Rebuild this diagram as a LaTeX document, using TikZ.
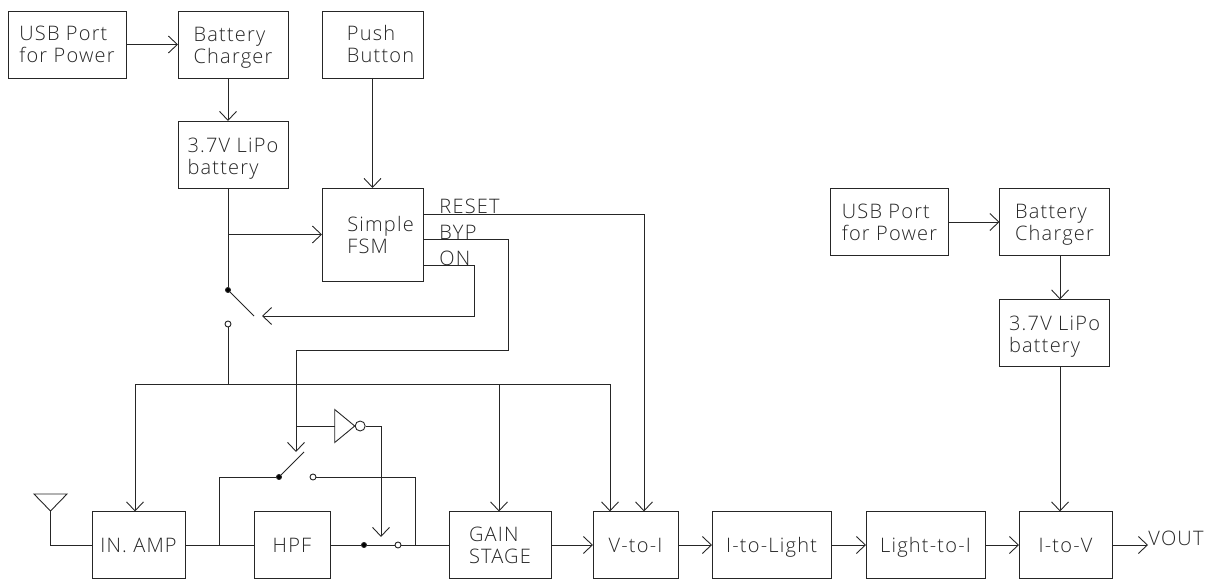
\documentclass[tikz,border=0pt]{standalone}
\usepackage{fontspec}
\setmainfont{Open Sans}[UprightFont=* Light,LetterSpace=6]
\usetikzlibrary{positioning,arrows.meta}
\usetikzlibrary{calc}
\usetikzlibrary{shapes.geometric}
\tikzset{
    >={Straight Barb[length=9pt,width=17pt]},
    block/.style={
        rectangle,
        draw,
        align=left,
        inner sep=0pt,
        outer sep=0pt,
        minimum height=67pt
    },
    drop/.style={
        execute at begin node=\rule{0pt}{#1}
    },
    contact/.style={
        circle,
        draw,
        fill=black,
        inner sep=0pt,
        minimum size=5pt
    },
    pad/.style={
        circle,
        draw,
        fill=white,
        inner sep=0pt,
        minimum size=6pt
    },
    gate/.style={
        isosceles triangle,
        isosceles triangle stretches,
        draw,
        inner sep=0pt,
        outer sep=0pt,
        minimum width=33pt
    },
    signal/.style={
        anchor=base west,
        inner sep=0pt
    }
}
\begin{document}
\begin{tikzpicture}[
    x=1pt,
    y=-1pt,
    font=\fontsize{20}{22}\selectfont,
    line width=0.9pt,
    color=black!85
]
\useasboundingbox (0,0) rectangle (1212,580);

% Power path of the implant
\node[block, minimum width=118pt] (usbone) at (67,44.5)
{USB Port\\for Power};
\node[block, drop=42pt, minimum width=110pt, right=52pt of usbone] (chargerone)
{Battery\\Charger};
\node[block, drop=44pt, minimum width=110pt, below=43pt of chargerone] (lipoone)
{3.7V LiPo\\battery};

% Control
\node[block, minimum width=101pt, right=34pt of chargerone] (push)
{\hspace*{16pt}Push\\\hspace*{16pt}Button};
\node[block, minimum width=101pt, minimum height=93pt, below=110pt of push] (fsm)
{\hspace*{16pt}Simple\\\hspace*{16pt}FSM};

% Power path of the receiver
\node[block, minimum width=118pt] (usbtwo) at (889.5,222)
{USB Port\\for Power};
\node[block, drop=42pt, minimum width=110pt, right=51pt of usbtwo] (chargertwo)
{Battery\\Charger};
\node[block, drop=44pt, minimum width=110pt, below=44pt of chargertwo] (lipotwo)
{3.7V LiPo\\battery};

% Signal chain
\node[block, minimum width=93pt] (inamp) at (138.5,545)
{IN. AMP};
\node[block, minimum width=76pt, right=69pt of inamp] (hpf)
{HPF};
\node[block, minimum width=102pt, right=119pt of hpf] (gain)
{GAIN\\STAGE};
\node[block, minimum width=85pt, right=42pt of gain] (vtoi)
{V-to-I};
\node[block, drop=20pt, minimum width=119pt, right=34pt of vtoi] (itolight)
{I-to-Light};
\node[block, drop=20pt, minimum width=119pt, right=35pt of itolight] (lighttoi)
{Light-to-I};
\node[block, minimum width=93pt, right=34pt of lighttoi] (itov)
{I-to-V};
\node[inner sep=0pt, right=36pt of itov, yshift=7pt] (vout)
{VOUT};

% Antenna and inverter
\node[gate, minimum height=17pt, shape border rotate=-90] (antenna) at (50.5,501) {};
\node[gate, minimum height=20pt] (inv) at (342.5,426) {};
\node[pad, minimum size=10pt, right=0pt of inv.apex] (bubble) {};

% Switches
\node[contact] (pwrdot) at (228,290) {};
\node[pad] (pwrpad) at (228,324) {};
\node[contact] (bypdot) at (279,477) {};
\node[pad] (byppad) at (313,477) {};
\node[contact] (seldot) at (364,545) {};
\node[pad] (selpad) at (398,545) {};

% Junctions and free ends
\coordinate (pwrarm) at (254,316);
\coordinate (bypgate) at (296,452);
\coordinate (byparm) at (304,452);
\coordinate (pwrgate) at (262,316);
\coordinate (selgate) at (381,537);
\coordinate (busleft) at (135,384);
\coordinate (busgain) at (499,384);
\coordinate (busright) at (610,384);
\coordinate (tapleft) at (219,545);
\coordinate (tapright) at (415,545);
\coordinate (taptwo) at (1060,256);
\coordinate (resetout) at ($(fsm.north east)+(0,26)$);
\coordinate (bypout) at ($(fsm.north east)+(0,51)$);
\coordinate (onout) at ($(fsm.north east)+(0,77)$);

% Charging
\draw[->] (usbone) -- (chargerone);
\draw[->] (chargerone.south -| pwrdot) -- (lipoone.north -| pwrdot);
\draw[->] (push) -- (fsm);
\draw[->] (usbtwo) -- (chargertwo);
\draw[->] (taptwo) -- (lipotwo.north -| taptwo);
\draw[->] (lipotwo.south -| taptwo) -- (itov.north -| taptwo);

% Battery to FSM and switch
\draw (lipoone.south -| pwrdot) -- (pwrdot);
\draw[->] (pwrdot |- fsm.west) -- (fsm.west);
\draw (pwrdot) -- (pwrarm);
\draw (pwrpad) -- (pwrpad |- busleft);

% Supply bus
\draw[->] (busright) -- (busleft) -- (busleft |- inamp.north);
\draw[->] (busgain) -- (busgain |- gain.north);
\draw[->] (busright) -- (busright |- vtoi.north);

% FSM outputs
\draw[->] (resetout) -| (vtoi.north -| 644,0);
\draw[->] (bypout) -- (bypout -| 508,0) |- (296,350) -- (bypgate);
\draw[->] (onout) -- (onout -| 474,0) |- (pwrgate);
\node[signal] (resetlabel) at ($(resetout)+(16,0)$) {RESET};
\node[signal] (byplabel) at ($(bypout)+(16,0)$) {BYP};
\node[signal] (onlabel) at ($(onout)+(16,0)$) {ON};

% Bypass around the filter
\draw (antenna.apex) |- (inamp.west);
\draw (inamp.east) -- (hpf.west);
\draw (hpf.east) -- (seldot);
\draw (seldot) -- (selpad);
\draw (selpad) -- (gain.west);
\draw (tapleft) |- (bypdot);
\draw (bypdot) -- (byparm);
\draw (byppad) -| (tapright);
\draw (inv.lower side) -- (inv.lower side -| bypgate);
\draw[->] (bubble) -| (selgate);

% Signal chain
\draw[->] (gain) -- (vtoi);
\draw[->] (vtoi) -- (itolight);
\draw[->] (itolight) -- (lighttoi);
\draw[->] (lighttoi) -- (itov);
\draw[->] (itov.east) -- ++(36,0);

\end{tikzpicture}
\end{document}
